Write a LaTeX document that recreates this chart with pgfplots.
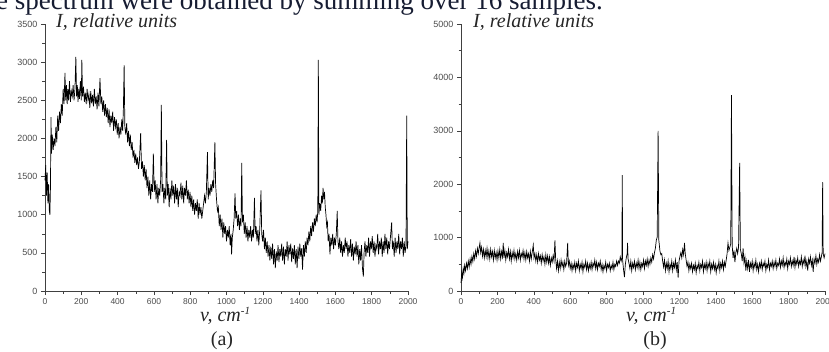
\documentclass[border=0pt]{standalone}
\usepackage{pgfplots}
\pgfplotsset{compat=1.18}
\usepackage{fontspec}
\setmainfont{Liberation Serif}
\newfontfamily\ticksf{Liberation Sans}
\definecolor{navytext}{RGB}{22,28,50}
\pgfplotsset{spec/.style={
  scale only axis, anchor=south west,
  xmin=0, xmax=2000, ymin=0,
  axis lines*=left,
  xtick={0,200,...,2000},
  minor x tick num=1, minor y tick num=1,
  tick align=outside, major tick length=4pt, minor tick length=2.5pt,
  tick style={black!75, line width=0.5pt},
  axis line style={black!75, line width=0.6pt},
  xticklabel style={font=\ticksf\fontsize{8.5}{9}\selectfont, text=black!70},
  yticklabel style={font=\ticksf\fontsize{9}{10}\selectfont, text=black!70},
  /pgf/number format/1000 sep={},
  /pgf/number format/assume math mode=true,
  clip=false}}
\begin{document}
\begin{tikzpicture}
\useasboundingbox (0,0) rectangle (829pt,351pt);
\node[anchor=base west, inner sep=0pt, font=\fontsize{27}{29}\selectfont, text=navytext] at (-4pt,341pt) {e spectrum were obtained by summing over 16 samples.};
% ---------- (a)
\begin{axis}[spec, at={(45pt,60pt)}, width=363pt, height=267pt, ymax=3500, ytick={0,500,...,3500}]
\addplot[black, line width=0.7pt] coordinates {
(0,1450)(4,1650)(8,1250)(12,1550)(16,1150)(20,1400)(24,1050)(27,1000)(30,1350)(33,2280)(36,1800)(40,2050)(45,1850)(50,2000)(55,1900)(60,2150)(65,1950)(70,2300)(75,2100)(80,2350)(85,2200)(90,2450)(95,2300)(100,2650)(105,2450)(110,2860)(114,2500)(118,2700)(122,2450)(126,2650)(130,2500)(135,2750)(140,2480)(145,2620)(150,2550)(155,2700)(160,2500)(165,2650)(170,3070)(174,2550)(178,2700)(182,2480)(186,2650)(190,2520)(195,2750)(200,2500)(203,3030)(207,2550)(212,2680)(217,2480)(222,2600)(227,2450)(232,2650)(237,2500)(242,2580)(247,2400)(252,2620)(257,2460)(262,2570)(267,2420)(272,2650)(277,2450)(282,2550)(287,2380)(292,2600)(297,2420)(303,2790)(308,2450)(313,2550)(318,2350)(323,2500)(328,2300)(333,2450)(338,2280)(343,2400)(348,2200)(353,2380)(358,2150)(363,2300)(368,2200)(373,2350)(378,2100)(383,2280)(388,2150)(393,2250)(398,2050)(403,2200)(408,2000)(413,2150)(418,2050)(423,2250)(428,2100)(432,2400)(436,2960)(440,2150)(445,2050)(450,2200)(455,1950)(460,2100)(465,1900)(470,2050)(475,1850)(480,1950)(485,1750)(490,1850)(495,1680)(500,1800)(505,1650)(510,1750)(515,1600)(520,1700)(527,2070)(532,1600)(537,1700)(542,1500)(547,1650)(552,1450)(557,1600)(562,1350)(567,1500)(572,1250)(577,1450)(582,1200)(587,1400)(592,1300)(597,1800)(602,1300)(607,1450)(612,1200)(617,1400)(622,1150)(627,1350)(632,1250)(637,1450)(641,2440)(645,1300)(650,1400)(655,1150)(660,1350)(665,1200)(670,1980)(674,1250)(679,1400)(684,1100)(689,1350)(694,1200)(699,1450)(704,1250)(709,1380)(714,1150)(719,1400)(724,1200)(729,1350)(734,1100)(739,1300)(744,1250)(749,1420)(754,1200)(759,1380)(764,1150)(769,1350)(774,1250)(779,1450)(784,1200)(789,1330)(794,1150)(799,1300)(804,1100)(809,1250)(814,1050)(819,1200)(824,1000)(829,1150)(834,1050)(839,1200)(844,950)(849,1150)(854,1000)(859,1100)(864,950)(869,1050)(874,1150)(879,1250)(884,1150)(889,1300)(895,1820)(899,1200)(904,1350)(909,1250)(914,1400)(919,1300)(924,1450)(929,1350)(936,1950)(940,1400)(945,1200)(950,1050)(955,1100)(960,850)(965,1000)(970,800)(975,950)(980,700)(985,900)(990,750)(995,850)(1000,650)(1005,800)(1010,700)(1015,850)(1020,600)(1025,750)(1028,480)(1032,700)(1037,800)(1042,950)(1047,1280)(1051,950)(1056,1050)(1061,850)(1066,1000)(1071,800)(1076,950)(1080,850)(1084,1680)(1088,900)(1093,1000)(1098,750)(1103,900)(1108,700)(1113,850)(1118,650)(1123,800)(1128,700)(1133,850)(1138,650)(1143,800)(1148,700)(1154,1220)(1158,750)(1163,850)(1168,650)(1173,800)(1178,600)(1183,800)(1190,1320)(1194,750)(1199,650)(1204,800)(1209,550)(1214,700)(1219,500)(1224,650)(1229,450)(1234,600)(1239,400)(1244,580)(1249,420)(1254,620)(1259,350)(1264,550)(1269,300)(1274,520)(1279,400)(1284,600)(1289,380)(1294,550)(1299,450)(1304,620)(1309,400)(1314,580)(1319,350)(1324,550)(1329,450)(1334,650)(1339,400)(1344,600)(1349,480)(1354,620)(1359,380)(1364,560)(1369,420)(1374,600)(1379,350)(1384,550)(1389,300)(1394,580)(1399,420)(1404,620)(1409,450)(1414,560)(1419,280)(1424,600)(1429,450)(1434,650)(1439,500)(1444,700)(1449,600)(1454,780)(1459,650)(1464,850)(1469,720)(1474,900)(1479,780)(1484,950)(1489,850)(1494,1000)(1499,900)(1503,1050)(1506,3030)(1509,1000)(1514,1150)(1519,1050)(1524,1250)(1528,1150)(1532,1350)(1536,1200)(1540,1300)(1544,1100)(1548,1000)(1552,850)(1556,900)(1560,650)(1565,750)(1570,480)(1575,700)(1580,600)(1585,750)(1590,550)(1595,700)(1600,600)(1605,750)(1610,1050)(1614,650)(1619,550)(1624,700)(1629,500)(1634,650)(1639,450)(1644,600)(1649,500)(1654,700)(1659,550)(1664,650)(1669,450)(1674,600)(1679,500)(1684,680)(1689,450)(1694,620)(1699,400)(1704,580)(1709,480)(1714,650)(1719,450)(1724,600)(1729,350)(1734,550)(1739,400)(1744,600)(1749,300)(1754,190)(1758,500)(1763,650)(1768,450)(1773,600)(1778,500)(1783,700)(1788,450)(1793,650)(1798,550)(1803,720)(1808,500)(1813,650)(1818,450)(1823,600)(1828,550)(1833,750)(1838,480)(1843,650)(1848,550)(1853,700)(1858,450)(1863,650)(1868,500)(1873,750)(1878,550)(1883,700)(1888,480)(1893,650)(1898,550)(1903,700)(1910,900)(1914,550)(1919,650)(1924,450)(1929,700)(1934,500)(1939,650)(1944,550)(1949,750)(1954,480)(1959,650)(1964,550)(1969,700)(1974,450)(1979,650)(1984,500)(1989,600)(1993,2300)(1996,550)(2000,650)
};
\end{axis}
% ---------- (b)
\begin{axis}[spec, at={(461pt,60pt)}, width=364pt, height=267pt, ymax=5000, ytick={0,1000,...,5000}]
\addplot[black, line width=0.7pt] coordinates {
(0,150)(4,350)(8,250)(12,420)(16,330)(20,480)(25,380)(30,520)(35,420)(40,560)(45,450)(50,600)(55,500)(60,650)(65,550)(70,700)(75,600)(80,750)(85,650)(90,800)(95,700)(100,820)(104,900)(108,720)(113,820)(118,650)(123,780)(128,620)(133,760)(138,640)(143,800)(148,620)(153,750)(158,600)(163,780)(168,640)(173,740)(178,580)(183,760)(188,620)(193,720)(198,580)(203,750)(208,620)(213,780)(218,600)(223,740)(228,640)(232,900)(236,620)(241,760)(246,580)(251,720)(256,640)(261,780)(266,600)(271,740)(276,560)(281,720)(286,620)(291,760)(296,600)(301,700)(306,580)(311,740)(316,620)(321,760)(326,580)(331,700)(336,640)(341,760)(346,600)(351,720)(356,580)(361,740)(366,620)(371,700)(376,560)(381,740)(386,600)(391,720)(397,860)(401,620)(406,700)(411,560)(416,680)(421,540)(426,700)(431,580)(436,660)(441,520)(446,680)(451,560)(456,640)(461,500)(466,680)(471,540)(476,660)(481,520)(486,640)(491,480)(496,620)(501,540)(506,660)(511,560)(516,950)(520,600)(525,420)(530,560)(535,380)(540,540)(545,420)(550,580)(555,460)(560,540)(565,400)(570,560)(575,460)(580,520)(586,900)(590,480)(595,560)(600,420)(605,520)(610,380)(615,500)(620,420)(625,540)(630,380)(635,520)(640,440)(645,560)(650,380)(655,500)(660,420)(665,540)(670,360)(675,500)(680,440)(685,560)(690,400)(695,520)(700,380)(705,500)(710,420)(715,540)(720,400)(725,520)(730,460)(735,580)(740,420)(745,540)(750,400)(755,520)(760,460)(765,560)(770,400)(775,500)(780,360)(785,480)(790,420)(795,540)(800,380)(805,500)(810,440)(815,520)(820,380)(825,480)(830,420)(835,540)(840,400)(845,500)(850,460)(855,560)(860,480)(865,560)(870,520)(875,640)(880,560)(884,620)(886,2170)(888,580)(893,400)(898,260)(903,500)(908,620)(913,700)(915,900)(918,600)(923,520)(928,420)(933,560)(938,380)(943,520)(948,440)(953,560)(958,400)(963,520)(968,440)(973,580)(978,420)(983,540)(988,400)(993,520)(998,460)(1003,580)(1008,420)(1013,560)(1018,480)(1023,600)(1028,460)(1033,580)(1038,500)(1043,620)(1048,540)(1053,680)(1058,600)(1063,720)(1068,800)(1073,950)(1078,1010)(1083,3000)(1087,950)(1093,750)(1098,680)(1103,700)(1108,560)(1113,450)(1118,580)(1123,380)(1128,520)(1133,420)(1138,560)(1143,360)(1148,500)(1153,420)(1158,560)(1163,380)(1168,520)(1173,440)(1178,580)(1183,400)(1188,540)(1193,250)(1198,560)(1203,650)(1208,720)(1213,620)(1218,780)(1223,680)(1228,900)(1232,700)(1237,580)(1242,460)(1247,540)(1252,380)(1257,500)(1262,420)(1267,520)(1272,360)(1277,480)(1282,400)(1287,520)(1292,340)(1297,480)(1302,420)(1307,540)(1312,380)(1317,500)(1322,440)(1327,560)(1332,360)(1337,500)(1342,420)(1347,540)(1352,380)(1357,520)(1362,440)(1367,560)(1372,360)(1377,500)(1382,420)(1387,540)(1392,400)(1397,500)(1402,340)(1407,480)(1412,420)(1417,560)(1422,380)(1427,520)(1432,440)(1437,560)(1442,400)(1447,540)(1452,460)(1457,580)(1462,700)(1467,900)(1472,760)(1477,820)(1482,880)(1486,3670)(1490,850)(1495,620)(1500,760)(1505,540)(1510,720)(1515,800)(1520,700)(1525,820)(1531,2400)(1535,780)(1540,700)(1545,560)(1550,800)(1555,520)(1560,640)(1565,380)(1570,560)(1575,420)(1580,580)(1585,360)(1590,520)(1595,440)(1600,560)(1605,380)(1610,520)(1615,440)(1620,580)(1625,400)(1630,500)(1635,360)(1640,520)(1645,440)(1650,560)(1655,400)(1660,520)(1665,460)(1670,560)(1675,380)(1680,500)(1685,440)(1690,580)(1695,400)(1700,520)(1705,460)(1710,560)(1715,420)(1720,540)(1725,460)(1730,580)(1735,420)(1740,520)(1745,480)(1750,600)(1755,440)(1760,560)(1765,480)(1770,620)(1775,440)(1780,540)(1785,480)(1790,600)(1795,420)(1800,560)(1805,500)(1810,620)(1815,460)(1820,560)(1825,480)(1830,640)(1835,440)(1840,580)(1845,500)(1850,620)(1855,460)(1860,560)(1865,500)(1870,640)(1875,460)(1880,580)(1885,500)(1890,660)(1895,460)(1900,560)(1905,380)(1910,600)(1915,520)(1920,640)(1925,480)(1930,580)(1935,360)(1940,600)(1945,520)(1950,660)(1955,500)(1960,600)(1965,540)(1970,680)(1975,560)(1980,640)(1984,720)(1987,2040)(1990,700)(1995,620)(2000,700)
};
\end{axis}
% ---------- labels
\node[anchor=base west, inner sep=0pt, font=\itshape\fontsize{20}{22}\selectfont, text=black!85] at (56pt,323pt) {I, relative units};
\node[anchor=base west, inner sep=0pt, font=\itshape\fontsize{20}{22}\selectfont, text=black!85] at (473pt,323pt) {I, relative units};
\node[anchor=base west, inner sep=0pt, font=\itshape\fontsize{20}{22}\selectfont, text=black!85] at (200pt,30pt) {v, cm\raisebox{7pt}{\fontsize{11}{12}\selectfont -1}};
\node[anchor=base west, inner sep=0pt, font=\itshape\fontsize{20}{22}\selectfont, text=black!85] at (626pt,30pt) {v, cm\raisebox{7pt}{\fontsize{11}{12}\selectfont -1}};
\node[anchor=base, inner sep=0pt, font=\fontsize{20}{22}\selectfont, text=black!85] at (222pt,6pt) {(a)};
\node[anchor=base, inner sep=0pt, font=\fontsize{20}{22}\selectfont, text=black!85] at (655pt,6pt) {(b)};
\end{tikzpicture}
\end{document}
